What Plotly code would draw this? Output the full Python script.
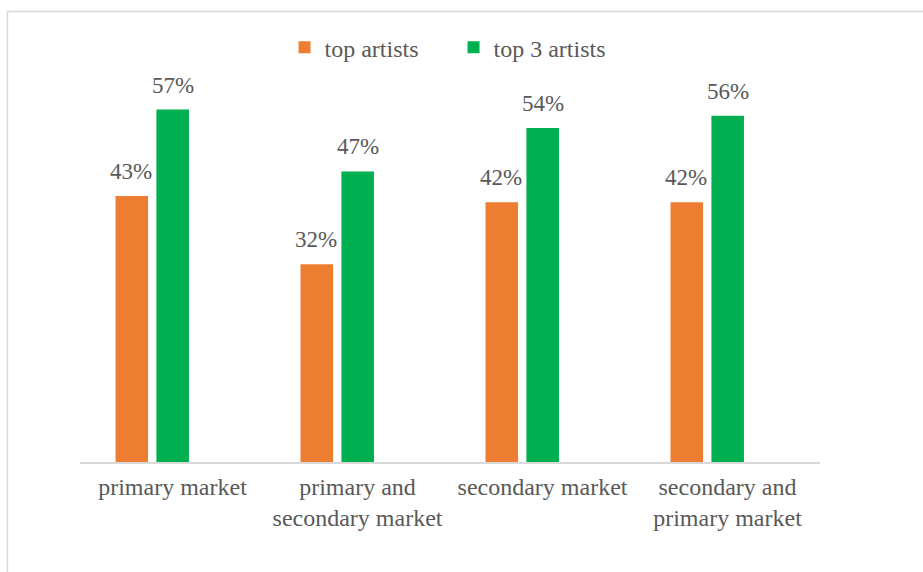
import plotly.graph_objects as go

categories = ["primary market", "primary and<br>secondary market",
              "secondary market", "secondary and<br>primary market"]
top_artists = [0.43, 0.32, 0.42, 0.42]
top3_artists = [0.57, 0.47, 0.54, 0.56]

ORANGE = "#ED7D31"
GREEN = "#00B050"
TEXT = "#595959"
LINE = "#D9D9D9"
FONT = "Liberation Serif"

# bar placement within each category slot (category units)
BAR_W = 0.176
OFFSETS = (-0.308, -0.087)
LABEL_SHIFT = (-42, 0)

fig = go.Figure()
fig.add_trace(go.Bar(name="top artists", x=categories, y=top_artists,
                     width=BAR_W, offset=OFFSETS[0],
                     marker=dict(color=ORANGE, line=dict(width=0))))
fig.add_trace(go.Bar(name="top 3 artists", x=categories, y=top3_artists,
                     width=BAR_W, offset=OFFSETS[1],
                     marker=dict(color=GREEN, line=dict(width=0))))

# value labels above each bar
for vals, dx in ((top_artists, LABEL_SHIFT[0]), (top3_artists, LABEL_SHIFT[1])):
    for cat, v in zip(categories, vals):
        fig.add_annotation(x=cat, y=v, text=f"{round(v * 100)}%", showarrow=False,
                           xshift=dx, yshift=10, yanchor="bottom",
                           font=dict(family=FONT, size=23, color=TEXT))

# chart area frame
fig.add_shape(type="rect", xref="paper", yref="paper",
              x0=-0.098, x1=1.2, y0=-0.4, y1=1.2143,
              line=dict(color=LINE, width=1.5), layer="below")

fig.update_layout(
    width=923, height=572,
    margin=dict(l=80, r=103, t=91, b=110),
    paper_bgcolor="white", plot_bgcolor="white",
    barmode="group",
    font=dict(family=FONT, size=24, color=TEXT),
    showlegend=True,
    legend=dict(orientation="h", x=0.2764, xanchor="left", y=1.117, yanchor="middle",
                font=dict(family=FONT, size=24, color=TEXT),
                entrywidth=124, entrywidthmode="pixels",
                bgcolor="rgba(0,0,0,0)"),
    xaxis=dict(showline=True, linecolor=LINE, linewidth=1.5, ticks="",
               showgrid=False, zeroline=False, range=[-0.5, 3.5],
               ticklabelstandoff=2,
               tickfont=dict(family=FONT, size=24, color=TEXT)),
    yaxis=dict(range=[0, 0.6], visible=False, showgrid=False, zeroline=False),
)

fig.write_html("out.html")
